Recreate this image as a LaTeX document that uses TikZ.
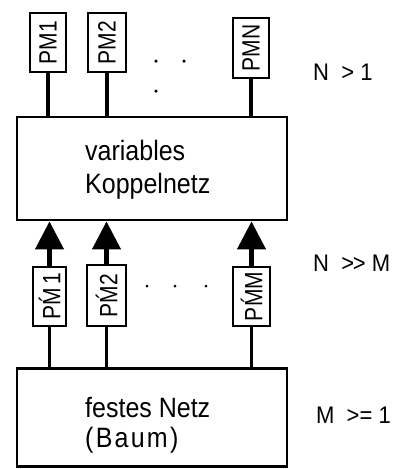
\documentclass[tikz,border=0pt]{standalone}
\usepackage{fontspec}
\setmainfont{Liberation Sans}
\usetikzlibrary{arrows.meta}
% text set at 10pt and enlarged (horizontal, vertical factor)
\newcommand{\enl}[3]{\scalebox{#1}[#2]{#3}}
% M with an acute mark sitting on it
\newcommand{\Mac}{\makebox[0pt][l]{\kern1.6pt\raisebox{1.3pt}{´}}M}
\begin{document}
\begin{tikzpicture}[x=1pt,y=-1pt,
  pmbox/.style={draw, line width=2.4pt, rotate=90, inner sep=0pt},
  net/.style={draw, line width=2.8pt, inner sep=0pt},
  netlabel/.style={anchor=base west, inner sep=0pt},
  cond/.style={anchor=west, inner sep=0pt},
  bus/.style={line width=4.4pt},
  feed/.style={line width=2.8pt},
  dot/.style={fill, circle, inner sep=0pt, minimum size=3.5pt}
]
\useasboundingbox (0,0) rectangle (402,469);

% processor modules on top
\node[pmbox, minimum width=59pt, minimum height=36pt] (pm1) at (48,42.5) {\enl{2.1}{2.5}{PM1}};
\node[pmbox, minimum width=59pt, minimum height=38pt] (pm2) at (107,42.5) {\enl{2.1}{2.5}{PM2}};
\node[pmbox, minimum width=60pt, minimum height=36pt] (pmN) at (251,48) {\enl{2.1}{2.5}{PMN}};

% variable switching network
\node[net, minimum width=270pt, minimum height=103pt] (kop) at (152,168.5) {};
\node[netlabel] (kop1) at (85,160) {\enl{2.5}{2.8}{variables}};
\node[netlabel] (kop2) at (85,193) {\enl{2.5}{2.8}{Koppelnetz}};

% modules attached to the fixed network
\node[pmbox, minimum width=59pt, minimum height=33pt] (pmd1) at (49.5,296.5) {\enl{2.1}{2.5}{P\Mac\,1}};
\node[pmbox, minimum width=61pt, minimum height=39pt] (pmd2) at (106.5,295.5) {\enl{2.1}{2.5}{P\Mac2}};
\node[pmbox, minimum width=59pt, minimum height=37pt] (pmdM) at (251.5,296.5) {\enl{2.1}{2.5}{P\Mac M}};

% fixed network (tree)
\node[net, minimum width=270pt, minimum height=98pt] (fest) at (152,417.5) {};
\node[netlabel] (fest1) at (85,417) {\enl{2.5}{2.8}{festes Netz}};
\node[netlabel] (fest2) at (85,447) {\enl{2.5}{2.8}{(\kern.9pt B\kern.9pt a\kern.9pt u\kern.9pt m\kern.9pt)}};

% connections
\foreach \p in {pm1,pm2,pmN}
  \draw[bus] (\p.west) -- (\p.west |- kop.north);
\foreach \p in {pmd1,pmd2,pmdM}
  \draw[bus, -{Triangle[length=28pt,width=28pt]}] (\p.east) -- (\p.east |- kop.south);
\foreach \p in {pmd1,pmd2,pmdM}
  \draw[feed] (\p.west) -- (\p.west |- fest.north);

% ellipsis dots
\node[dot] (d1) at (156,61) {};
\node[dot] (d2) at (184,61) {};
\node[dot] (d3) at (156,91) {};
\node[dot, minimum size=3pt] (e1) at (147,286) {};
\node[dot, minimum size=3pt] (e2) at (175,286) {};
\node[dot, minimum size=3pt] (e3) at (206,286) {};

% conditions
\node[cond] (c1) at (313,72) {\enl{2.2}{2.4}{N\ \ > 1}};
\node[cond] (c2) at (313,263) {\enl{2.2}{2.4}{N\ \ >\kern-.6pt> M}};
\node[cond] (c3) at (316,415) {\enl{2.2}{2.4}{M\ \ >=\ 1}};
\end{tikzpicture}
\end{document}
